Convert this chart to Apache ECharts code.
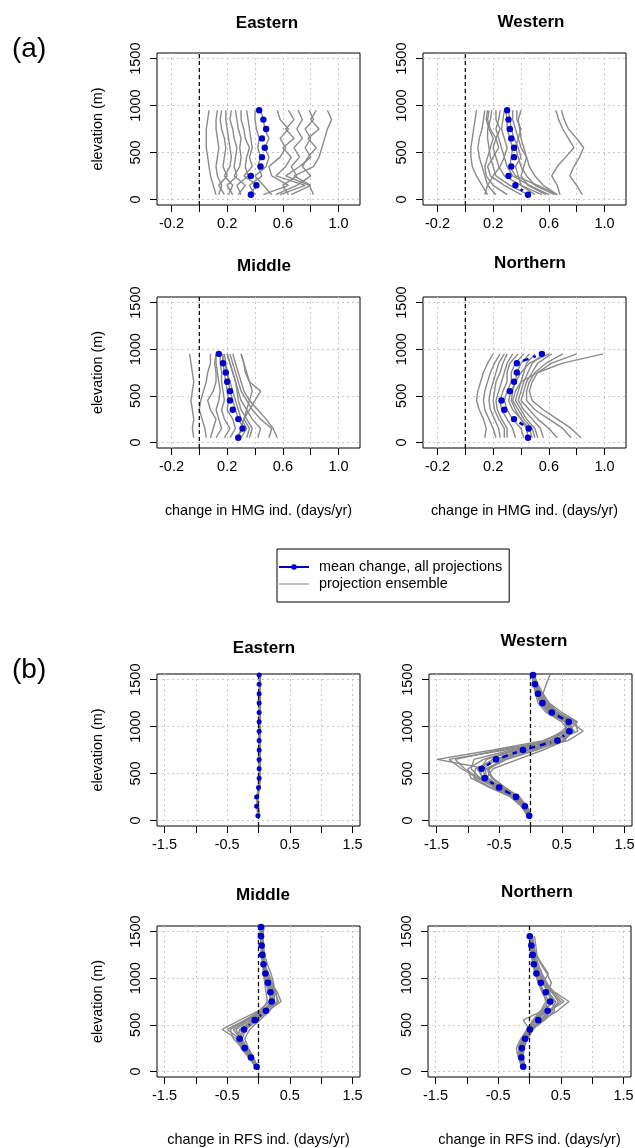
<!DOCTYPE html>
<html>
<head>
<meta charset="utf-8">
<script src="https://cdn.jsdelivr.net/npm/echarts@6/dist/echarts.min.js"></script>
<style>
html, body { margin: 0; padding: 0; background: #fff; }
#myChart { width: 635px; height: 1148px; }
</style>
</head>
<body>
<div id="myChart"></div>
<script>
// elevation bands (m)
var elevA = [50, 150, 250, 350, 450, 550, 650, 750, 850, 950];
var elevB = [50, 150, 250, 350, 450, 550, 650, 750, 850, 950, 1050, 1150, 1250, 1350, 1450, 1550];
var elevBN = [50, 150, 250, 350, 450, 550, 650, 750, 850, 950, 1050, 1150, 1250, 1350, 1450];

// tick marks / labels
var xTicksA = [-0.2, 0, 0.2, 0.4, 0.6, 0.8, 1.0];
var xLabelsA = [-0.2, 0.2, 0.6, 1.0];
var xTicksB = [-1.5, -1, -0.5, 0, 0.5, 1, 1.5];
var xLabelsB = [-1.5, -0.5, 0.5, 1.5];
var yTicks = [0, 500, 1000, 1500];

// (a) HMG indicator - mean change (bottom to top)
var meanEastA = [0.37, 0.41, 0.37, 0.44, 0.45, 0.47, 0.45, 0.48, 0.46, 0.43];
var meanWestA = [0.45, 0.36, 0.31, 0.33, 0.35, 0.35, 0.33, 0.32, 0.31, 0.30];
var meanMidA = [0.28, 0.31, 0.28, 0.24, 0.22, 0.22, 0.20, 0.19, 0.17, 0.14];
var meanNorthA = [0.45, 0.455, 0.35, 0.28, 0.26, 0.32, 0.35, 0.37, 0.37, 0.55];

// (a) projection ensembles
var ensEastA = [
  [0.12, 0.10, 0.08, 0.07, 0.06, 0.05, 0.05, 0.05, 0.06, 0.07],
  [0.14, 0.16, 0.13, 0.12, 0.13, 0.14, 0.13, 0.12, 0.12, 0.13],
  [0.18, 0.14, 0.20, 0.17, 0.18, 0.19, 0.18, 0.16, 0.15, 0.16],
  [0.21, 0.24, 0.18, 0.22, 0.23, 0.22, 0.21, 0.20, 0.19, 0.19],
  [0.24, 0.20, 0.27, 0.25, 0.26, 0.27, 0.25, 0.24, 0.22, 0.23],
  [0.28, 0.33, 0.25, 0.29, 0.30, 0.29, 0.30, 0.28, 0.27, 0.26],
  [0.30, 0.27, 0.35, 0.33, 0.34, 0.36, 0.33, 0.32, 0.30, 0.30],
  [0.35, 0.42, 0.32, 0.38, 0.36, 0.38, 0.37, 0.36, 0.35, 0.34],
  [0.40, 0.36, 0.45, 0.42, 0.44, 0.42, 0.43, 0.41, 0.40, 0.40],
  [0.52, 0.46, 0.40, 0.48, 0.50, 0.47, 0.50, 0.47, 0.46, 0.44],
  [0.46, 0.64, 0.52, 0.50, 0.58, 0.62, 0.58, 0.64, 0.58, 0.56],
  [0.58, 0.76, 0.55, 0.62, 0.66, 0.60, 0.68, 0.62, 0.68, 0.64],
  [0.64, 0.60, 0.70, 0.66, 0.72, 0.68, 0.74, 0.70, 0.74, 0.71],
  [0.82, 0.79, 0.62, 0.72, 0.80, 0.76, 0.80, 0.76, 0.82, 0.79],
  [0.55, 0.70, 0.80, 0.74, 0.78, 0.84, 0.78, 0.86, 0.80, 0.84],
  [0.66, 0.80, 0.68, 0.82, 0.86, 0.88, 0.90, 0.92, 0.95, 0.92]
];
var ensWestA = [
  [0.16, 0.12, 0.08, 0.05, 0.04, 0.04, 0.05, 0.06, 0.07, 0.08],
  [0.22, 0.16, 0.14, 0.12, 0.10, 0.09, 0.10, 0.12, 0.13, 0.14],
  [0.30, 0.20, 0.15, 0.14, 0.16, 0.18, 0.20, 0.17, 0.15, 0.16],
  [0.40, 0.28, 0.18, 0.16, 0.20, 0.24, 0.22, 0.18, 0.16, 0.17],
  [0.45, 0.32, 0.22, 0.20, 0.18, 0.17, 0.16, 0.16, 0.18, 0.19],
  [0.55, 0.40, 0.28, 0.24, 0.22, 0.20, 0.22, 0.25, 0.22, 0.22],
  [0.60, 0.46, 0.34, 0.30, 0.28, 0.26, 0.24, 0.22, 0.24, 0.25],
  [0.66, 0.52, 0.36, 0.32, 0.33, 0.34, 0.32, 0.30, 0.30, 0.29],
  [0.50, 0.40, 0.38, 0.36, 0.40, 0.38, 0.35, 0.33, 0.32, 0.31],
  [0.58, 0.45, 0.40, 0.42, 0.44, 0.40, 0.38, 0.36, 0.34, 0.34],
  [0.64, 0.50, 0.44, 0.40, 0.38, 0.36, 0.38, 0.40, 0.37, 0.37],
  [0.66, 0.56, 0.50, 0.46, 0.44, 0.42, 0.40, 0.39, 0.38, 0.40],
  [0.68, 0.66, 0.62, 0.66, 0.72, 0.78, 0.74, 0.70, 0.67, 0.65],
  [0.84, 0.80, 0.75, 0.78, 0.82, 0.85, 0.80, 0.74, 0.71, 0.69],
  [0.14, 0.16, 0.20, 0.25, 0.28, 0.30, 0.28, 0.26, 0.27, 0.28]
];
var ensMidA = [
  [-0.04, -0.05, -0.04, -0.05, -0.06, -0.05, -0.04, -0.05, -0.06, -0.07],
  [0.05, 0.04, 0.02, 0.00, 0.01, 0.03, 0.05, 0.06, 0.08, 0.08],
  [0.08, 0.10, 0.12, 0.08, 0.06, 0.10, 0.12, 0.12, 0.11, 0.12],
  [0.12, 0.16, 0.14, 0.12, 0.14, 0.15, 0.14, 0.13, 0.12, 0.12],
  [0.18, 0.22, 0.18, 0.16, 0.18, 0.17, 0.16, 0.16, 0.15, 0.15],
  [0.22, 0.26, 0.24, 0.20, 0.21, 0.20, 0.19, 0.18, 0.17, 0.17],
  [0.26, 0.32, 0.28, 0.26, 0.24, 0.22, 0.21, 0.20, 0.18, 0.16],
  [0.30, 0.34, 0.30, 0.28, 0.26, 0.24, 0.22, 0.20, 0.19, 0.18],
  [0.36, 0.38, 0.34, 0.30, 0.28, 0.27, 0.26, 0.24, 0.22, 0.20],
  [0.42, 0.44, 0.38, 0.34, 0.30, 0.28, 0.26, 0.24, 0.22, 0.20],
  [0.50, 0.52, 0.44, 0.38, 0.34, 0.30, 0.28, 0.26, 0.24, 0.22],
  [0.56, 0.53, 0.48, 0.42, 0.36, 0.32, 0.30, 0.28, 0.26, 0.24],
  [0.34, 0.36, 0.32, 0.34, 0.36, 0.38, 0.36, 0.34, 0.32, 0.30],
  [0.28, 0.30, 0.32, 0.36, 0.40, 0.44, 0.36, 0.33, 0.32, 0.30]
];
var ensNorthA = [
  [0.14, 0.15, 0.13, 0.10, 0.08, 0.09, 0.11, 0.13, 0.16, 0.20],
  [0.22, 0.20, 0.17, 0.14, 0.13, 0.14, 0.16, 0.18, 0.21, 0.25],
  [0.25, 0.24, 0.21, 0.18, 0.17, 0.18, 0.20, 0.22, 0.24, 0.28],
  [0.28, 0.28, 0.24, 0.21, 0.20, 0.21, 0.22, 0.25, 0.27, 0.30],
  [0.30, 0.30, 0.26, 0.23, 0.22, 0.24, 0.26, 0.28, 0.30, 0.34],
  [0.36, 0.34, 0.30, 0.26, 0.25, 0.27, 0.30, 0.30, 0.32, 0.38],
  [0.42, 0.40, 0.34, 0.30, 0.28, 0.30, 0.33, 0.33, 0.36, 0.42],
  [0.48, 0.46, 0.40, 0.36, 0.33, 0.34, 0.36, 0.37, 0.40, 0.46],
  [0.52, 0.50, 0.44, 0.40, 0.36, 0.38, 0.40, 0.42, 0.44, 0.50],
  [0.56, 0.54, 0.48, 0.42, 0.38, 0.40, 0.42, 0.45, 0.48, 0.56],
  [0.66, 0.60, 0.52, 0.46, 0.40, 0.42, 0.44, 0.48, 0.52, 0.62],
  [0.76, 0.70, 0.60, 0.50, 0.44, 0.44, 0.46, 0.50, 0.58, 0.70],
  [0.83, 0.76, 0.66, 0.56, 0.48, 0.46, 0.48, 0.52, 0.62, 0.80],
  [0.50, 0.48, 0.42, 0.38, 0.34, 0.36, 0.40, 0.52, 0.70, 0.99],
  [0.45, 0.44, 0.40, 0.34, 0.31, 0.33, 0.36, 0.40, 0.46, 0.60]
];

// (b) RFS indicator - mean change (bottom to top)
var meanEastB = [-0.01, -0.03, -0.03, 0.0, 0.01, 0.01, 0.01, 0.01, 0.01, 0.01, 0.01, 0.01, 0.01, 0.01, 0.01, 0.01];
var meanWestB = [-0.02, -0.09, -0.23, -0.50, -0.73, -0.78, -0.55, -0.12, 0.43, 0.62, 0.61, 0.34, 0.19, 0.12, 0.07, 0.04];
var meanMidB = [-0.03, -0.12, -0.22, -0.30, -0.23, -0.06, 0.12, 0.21, 0.19, 0.15, 0.11, 0.08, 0.06, 0.05, 0.04, 0.04];
var meanNorthB = [-0.10, -0.13, -0.12, -0.07, 0.005, 0.14, 0.29, 0.33, 0.26, 0.18, 0.11, 0.07, 0.05, 0.03, 0.005];

// (b) projection ensembles
var ensEastB = [
  [0.00, -0.02, -0.02, 0.01, 0.01, 0.02, 0.02, 0.02, 0.02, 0.02, 0.02, 0.02, 0.02, 0.02, 0.02, 0.02],
  [0.01, -0.01, -0.03, 0.00, 0.02, 0.01, 0.02, 0.01, 0.02, 0.01, 0.02, 0.01, 0.02, 0.01, 0.02, 0.02],
  [-0.01, -0.03, -0.02, 0.00, 0.00, 0.01, 0.00, 0.01, 0.00, 0.01, 0.00, 0.01, 0.00, 0.01, 0.01, 0.01],
  [0.02, 0.00, -0.01, 0.02, 0.03, 0.03, 0.03, 0.03, 0.03, 0.03, 0.03, 0.03, 0.03, 0.03, 0.03, 0.03]
];
var ensWestB = [
  [0.00, -0.05, -0.18, -0.42, -0.62, -0.70, -1.49, -0.60, 0.20, 0.55, 0.70, 0.45, 0.28, 0.18, 0.10, 0.05],
  [-0.03, -0.10, -0.25, -0.55, -0.85, -1.10, -1.30, -0.40, 0.35, 0.65, 0.60, 0.30, 0.15, 0.10, 0.06, 0.03],
  [-0.01, -0.08, -0.20, -0.48, -0.80, -0.95, -0.90, -0.30, 0.40, 0.75, 0.72, 0.40, 0.25, 0.20, 0.25, 0.31],
  [-0.02, -0.12, -0.28, -0.58, -0.75, -0.85, -0.60, 0.00, 0.60, 0.84, 0.65, 0.38, 0.22, 0.14, 0.09, 0.05],
  [0.02, -0.06, -0.20, -0.45, -0.68, -0.65, -0.45, -0.05, 0.50, 0.70, 0.55, 0.30, 0.18, 0.10, 0.06, 0.03],
  [-0.04, -0.14, -0.30, -0.62, -0.90, -0.88, -0.50, -0.10, 0.40, 0.60, 0.75, 0.50, 0.30, 0.20, 0.12, 0.06],
  [-0.02, -0.08, -0.22, -0.50, -0.70, -0.72, -0.40, 0.05, 0.45, 0.58, 0.55, 0.28, 0.16, 0.10, 0.06, 0.02],
  [-0.03, -0.10, -0.26, -0.52, -0.78, -0.80, -0.70, -0.20, 0.30, 0.55, 0.58, 0.36, 0.20, 0.12, 0.08, 0.04],
  [0.00, -0.06, -0.18, -0.40, -0.60, -0.68, -0.38, 0.10, 0.50, 0.62, 0.50, 0.25, 0.12, 0.08, 0.05, 0.02],
  [-0.05, -0.15, -0.32, -0.65, -0.95, -1.00, -0.75, -0.25, 0.25, 0.50, 0.65, 0.42, 0.26, 0.16, 0.10, 0.06],
  [-0.01, -0.07, -0.20, -0.46, -0.72, -0.76, -0.55, -0.15, 0.52, 0.68, 0.62, 0.34, 0.20, 0.13, 0.08, 0.04],
  [-0.02, -0.11, -0.24, -0.54, -0.70, -0.60, -0.20, 0.20, 0.55, 0.64, 0.56, 0.32, 0.18, 0.11, 0.07, 0.03],
  [-0.03, -0.09, -0.24, -0.50, -0.82, -1.05, -1.20, -0.50, 0.30, 0.58, 0.66, 0.40, 0.24, 0.16, 0.10, 0.05]
];
var ensMidB = [
  [-0.02, -0.10, -0.20, -0.35, -0.58, -0.30, 0.00, 0.18, 0.20, 0.16, 0.12, 0.08, 0.06, 0.05, 0.04, 0.04],
  [-0.04, -0.14, -0.26, -0.40, -0.45, -0.20, 0.05, 0.25, 0.24, 0.18, 0.13, 0.09, 0.07, 0.06, 0.05, 0.05],
  [-0.03, -0.12, -0.24, -0.34, -0.30, -0.10, 0.10, 0.30, 0.28, 0.22, 0.16, 0.10, 0.08, 0.06, 0.05, 0.04],
  [-0.02, -0.10, -0.18, -0.26, -0.20, -0.02, 0.15, 0.36, 0.30, 0.20, 0.14, 0.09, 0.07, 0.05, 0.04, 0.03],
  [-0.05, -0.16, -0.28, -0.32, -0.25, -0.08, 0.14, 0.22, 0.18, 0.14, 0.10, 0.07, 0.05, 0.04, 0.03, 0.03],
  [-0.01, -0.08, -0.16, -0.22, -0.14, 0.02, 0.18, 0.26, 0.22, 0.17, 0.12, 0.08, 0.06, 0.05, 0.04, 0.03],
  [-0.03, -0.11, -0.20, -0.28, -0.36, -0.14, 0.08, 0.20, 0.16, 0.12, 0.09, 0.07, 0.06, 0.05, 0.05, 0.04],
  [-0.04, -0.13, -0.25, -0.36, -0.28, -0.04, 0.16, 0.32, 0.26, 0.19, 0.14, 0.10, 0.08, 0.07, 0.06, 0.06],
  [-0.02, -0.09, -0.19, -0.30, -0.50, -0.22, 0.04, 0.14, 0.12, 0.10, 0.08, 0.06, 0.05, 0.04, 0.03, 0.02],
  [-0.03, -0.12, -0.22, -0.30, -0.22, -0.06, 0.10, 0.24, 0.26, 0.24, 0.20, 0.14, 0.10, 0.08, 0.07, 0.09],
  [-0.03, -0.11, -0.21, -0.29, -0.40, -0.18, 0.06, 0.22, 0.24, 0.18, 0.12, 0.08, 0.06, 0.05, 0.04, 0.04]
];
var ensNorthB = [
  [-0.08, -0.12, -0.14, -0.08, 0.02, 0.20, 0.45, 0.63, 0.40, 0.25, 0.15, 0.10, 0.06, 0.04, 0.02],
  [-0.10, -0.15, -0.18, -0.12, -0.02, 0.10, 0.30, 0.50, 0.35, 0.22, 0.14, 0.08, 0.05, 0.03, 0.01],
  [-0.12, -0.18, -0.21, -0.14, -0.04, 0.06, 0.22, 0.40, 0.30, 0.20, 0.12, 0.07, 0.04, 0.02, 0.00],
  [-0.09, -0.12, -0.10, -0.05, 0.04, 0.24, 0.40, 0.36, 0.28, 0.35, 0.28, 0.18, 0.12, 0.10, 0.08],
  [-0.11, -0.14, -0.13, -0.06, 0.00, -0.10, 0.20, 0.30, 0.24, 0.16, 0.10, 0.06, 0.04, 0.02, 0.01],
  [-0.07, -0.10, -0.09, -0.03, 0.06, 0.18, 0.35, 0.42, 0.30, 0.22, 0.30, 0.20, 0.10, 0.06, 0.04],
  [-0.10, -0.14, -0.15, -0.10, 0.01, 0.12, 0.26, 0.28, 0.20, 0.14, 0.09, 0.05, 0.03, 0.02, 0.01],
  [-0.13, -0.17, -0.16, -0.10, -0.02, 0.08, 0.24, 0.35, 0.32, 0.26, 0.18, 0.12, 0.08, 0.05, 0.03],
  [-0.09, -0.13, -0.12, -0.06, 0.02, 0.16, 0.32, 0.55, 0.38, 0.24, 0.16, 0.10, 0.06, 0.04, 0.02],
  [-0.11, -0.16, -0.17, -0.11, -0.03, 0.05, 0.18, 0.26, 0.22, 0.15, 0.10, 0.06, 0.04, 0.03, 0.02],
  [-0.08, -0.11, -0.11, -0.04, 0.04, 0.20, 0.36, 0.46, 0.36, 0.28, 0.20, 0.14, 0.10, 0.07, 0.05]
];

var BLUE = '#0000cd';
var GRAY = '#8a8a8a';
var FONT = '"Liberation Sans", Arial, sans-serif';
var xNameA = 'change in HMG ind. (days/yr)';
var xNameB = 'change in RFS ind. (days/yr)';

// panel layout (pixel boxes)
var panels = [
  { title: 'Eastern', tx: 262, ty: 20, left: 157, top: 53, width: 203, height: 152, xr: [-0.304, 1.154], ticks: xTicksA, labels: xLabelsA, elev: elevA, mean: meanEastA, ens: ensEastA, yName: true, xName: '', r: 3.2 },
  { title: 'Western', tx: 526, ty: 19, left: 423, top: 53, width: 203, height: 152, xr: [-0.304, 1.154], ticks: xTicksA, labels: xLabelsA, elev: elevA, mean: meanWestA, ens: ensWestA, yName: false, xName: '', r: 3.2 },
  { title: 'Middle', tx: 259, ty: 263, left: 157, top: 297, width: 203, height: 151, xr: [-0.304, 1.154], ticks: xTicksA, labels: xLabelsA, elev: elevA, mean: meanMidA, ens: ensMidA, yName: true, xName: xNameA, r: 3.2 },
  { title: 'Northern', tx: 525, ty: 260, left: 423, top: 297, width: 203, height: 151, xr: [-0.304, 1.154], ticks: xTicksA, labels: xLabelsA, elev: elevA, mean: meanNorthA, ens: ensNorthA, yName: false, xName: xNameA, r: 3.2 },
  { title: 'Eastern', tx: 259, ty: 645, left: 157, top: 674, width: 203, height: 152, xr: [-1.62, 1.62], ticks: xTicksB, labels: xLabelsB, elev: elevB, mean: meanEastB, ens: ensEastB, yName: true, xName: '', r: 2.5 },
  { title: 'Western', tx: 529, ty: 638, left: 429, top: 674, width: 203, height: 152, xr: [-1.62, 1.62], ticks: xTicksB, labels: xLabelsB, elev: elevB, mean: meanWestB, ens: ensWestB, yName: false, xName: '', r: 3.3 },
  { title: 'Middle', tx: 258, ty: 892, left: 157, top: 926, width: 203, height: 151, xr: [-1.62, 1.62], ticks: xTicksB, labels: xLabelsB, elev: elevB, mean: meanMidB, ens: ensMidB, yName: true, xName: xNameB, r: 3.3 },
  { title: 'Northern', tx: 532, ty: 889, left: 428, top: 926, width: 203, height: 151, xr: [-1.62, 1.62], ticks: xTicksB, labels: xLabelsB, elev: elevBN, mean: meanNorthB, ens: ensNorthB, yName: false, xName: xNameB, r: 3.3 }
];

// mean markers + dashed connecting segments with gaps around the points (R type="b")
function renderMean(r) {
  return function (params, api) {
    var p = api.coord([api.value(0), api.value(1)]);
    var q = api.coord([api.value(2), api.value(3)]);
    var dx = q[0] - p[0], dy = q[1] - p[1];
    var d = Math.sqrt(dx * dx + dy * dy);
    var gap = 6.5;
    var kids = [];
    if (d > 2 * gap + 1) {
      kids.push({
        type: 'line',
        shape: { x1: p[0] + dx / d * gap, y1: p[1] + dy / d * gap, x2: q[0] - dx / d * gap, y2: q[1] - dy / d * gap },
        style: { stroke: BLUE, lineWidth: 2.5, lineDash: [6, 5] }
      });
    }
    kids.push({ type: 'circle', shape: { cx: p[0], cy: p[1], r: r }, style: { fill: BLUE } });
    return { type: 'group', children: kids };
  };
}

var grids = [], xAxes = [], yAxes = [], series = [], titles = [];
var gridLine = { color: '#c8c8c8', type: [2, 3], width: 1 };
var tickText = { color: '#000', fontSize: 14.5, fontFamily: FONT };
var nameText = { color: '#000', fontSize: 14.4, fontFamily: FONT };

panels.forEach(function (p, i) {
  grids.push({
    left: p.left, top: p.top, width: p.width, height: p.height,
    show: true, borderColor: '#000', borderWidth: 1, backgroundColor: 'transparent',
    containLabel: false, outerBoundsMode: 'none'
  });
  xAxes.push({
    gridIndex: i, type: 'value', min: p.xr[0], max: p.xr[1],
    axisLine: { show: false, onZero: false },
    axisTick: { show: true, length: 7, customValues: p.ticks, lineStyle: { color: '#000', width: 1 } },
    axisLabel: Object.assign({ customValues: p.labels, margin: 11, formatter: function (v) { return v.toFixed(1); } }, tickText),
    splitLine: { show: true, lineStyle: gridLine },
    name: p.xName, nameLocation: 'middle', nameGap: 56, nameTextStyle: nameText
  });
  yAxes.push({
    gridIndex: i, type: 'value', min: -60, max: 1560,
    axisLine: { show: false, onZero: false },
    axisTick: { show: true, length: 7, customValues: yTicks, lineStyle: { color: '#000', width: 1 } },
    axisLabel: Object.assign({ customValues: yTicks, rotate: 90, margin: 14, formatter: function (v) { return String(v); } }, tickText),
    splitLine: { show: true, lineStyle: gridLine },
    name: p.yName ? 'elevation (m)' : '', nameLocation: 'middle', nameGap: 52, nameTextStyle: nameText
  });
  titles.push({
    text: p.title, left: p.tx, top: p.ty - 10, textAlign: 'center',
    textStyle: { fontSize: 17, fontWeight: 'bold', color: '#000', fontFamily: FONT }
  });

  // ensemble members
  p.ens.forEach(function (vals, k) {
    series.push({
      name: 'ens' + i + '_' + k, type: 'line', xAxisIndex: i, yAxisIndex: i,
      data: vals.map(function (v, j) { return [v, p.elev[j]]; }),
      symbol: 'none', silent: true, z: 2,
      lineStyle: { color: GRAY, width: 1.4 }
    });
  });

  // zero reference line
  series.push({
    name: 'zero' + i, type: 'line', xAxisIndex: i, yAxisIndex: i,
    data: [[0, -60], [0, 1560]], symbol: 'none', silent: true, z: 3,
    lineStyle: { color: '#111', width: 1.3, type: [4, 3] }
  });

  // mean change
  series.push({
    name: 'mean' + i, type: 'custom', xAxisIndex: i, yAxisIndex: i, z: 4, silent: true,
    dimensions: ['x', 'y', 'xn', 'yn'],
    encode: { x: 0, y: 1 },
    data: p.mean.map(function (v, j) {
      var n = Math.min(j + 1, p.mean.length - 1);
      return [v, p.elev[j], p.mean[n], p.elev[n]];
    }),
    renderItem: renderMean(p.r)
  });
});

// legend-only series
series.push({
  name: 'mean change, all projections', type: 'line', xAxisIndex: 0, yAxisIndex: 0, data: [],
  symbol: 'circle', symbolSize: 6, itemStyle: { color: BLUE }, lineStyle: { color: BLUE, width: 2 }
});
series.push({
  name: 'projection ensemble', type: 'line', xAxisIndex: 0, yAxisIndex: 0, data: [],
  symbol: 'none', itemStyle: { color: '#c0c0c0' }, lineStyle: { color: '#c0c0c0', width: 2 }
});

titles.push({ text: '(a)', left: 7, top: 30, textStyle: { fontSize: 28, fontWeight: 'normal', color: '#000', fontFamily: FONT } });
titles.push({ text: '(b)', left: 7, top: 651, textStyle: { fontSize: 28, fontWeight: 'normal', color: '#000', fontFamily: FONT } });

var myChart = echarts.init(document.getElementById('myChart'));
myChart.setOption({
  animation: false,
  backgroundColor: '#fff',
  title: titles,
  legend: {
    data: [
      { name: 'mean change, all projections' },
      { name: 'projection ensemble', itemStyle: { color: 'rgba(0,0,0,0)', opacity: 0 } }
    ],
    orient: 'vertical', left: 277, top: 549,
    padding: [11, 7, 11, 1], itemGap: 3, itemWidth: 30, itemHeight: 7,
    borderColor: '#000', borderWidth: 1, selectedMode: false,
    textStyle: { color: '#000', fontSize: 14.4, fontFamily: FONT, padding: [0, 0, 0, 5] }
  },
  grid: grids,
  xAxis: xAxes,
  yAxis: yAxes,
  series: series
});
</script>
</body>
</html>
